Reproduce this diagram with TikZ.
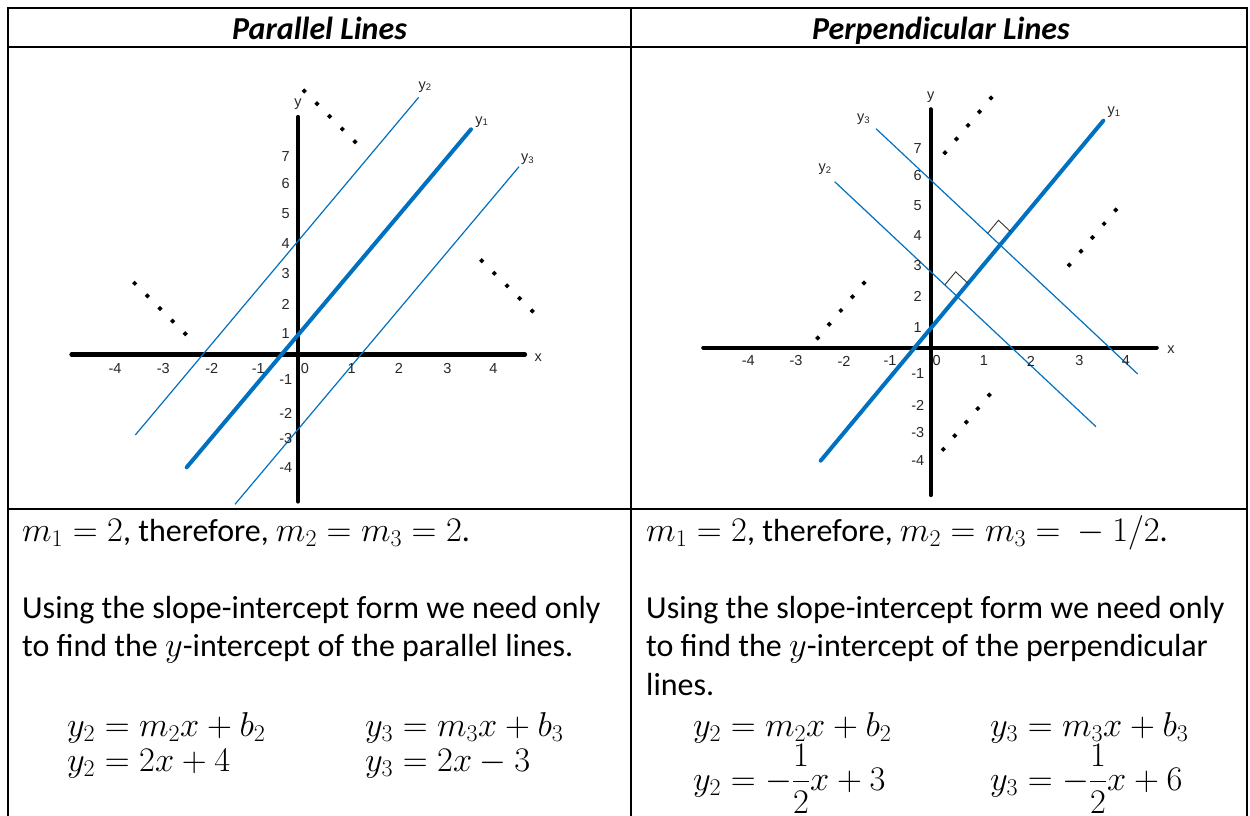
\RequirePackage{fix-cm}
\documentclass[tikz,border=0pt]{standalone}
\usepackage{fontspec}
\setmainfont{Carlito}
\newfontfamily\arialf{Liberation Sans}
\usetikzlibrary{calc}
\DeclareMathSizes{32}{34.5}{24}{18}
\definecolor{lineblue}{RGB}{0,112,192}
\newcommand\diamrow[2]{\foreach \t in {0,0.25,0.5,0.75,1}{\fill ($#1!\t!#2$) +(0,-2.6) -- +(2.6,0) -- +(0,2.6) -- +(-2.6,0) -- cycle;}}
\newcommand\ysub[1]{y\raisebox{-1.5pt}{\fontsize{9.5}{9.5}\selectfont #1}}
\begin{document}
\begin{tikzpicture}[x=1pt,y=-1pt,
  frame/.style={line width=2pt},
  axisline/.style={line width=4.2pt, line cap=round},
  thinblue/.style={draw=lineblue, line width=1.2pt},
  thickblue/.style={draw=lineblue, line width=4pt, line cap=round},
  ticklab/.style={font=\arialf\fontsize{14.5}{14.5}\selectfont, inner sep=0pt, text=black!85},
  head/.style={font=\bfseries\itshape\fontsize{32}{36}\selectfont, inner sep=0pt, anchor=base},
  body/.style={font=\fontsize{32}{38}\selectfont, inner sep=0pt, anchor=base west},
  rmark/.style={draw=black!80, line width=0.9pt}
]
\useasboundingbox (0,0) rectangle (1250,816);
% table frame
\draw[frame] (8,816) -- (8,8) -- (1247,8) -- (1247,816);
\draw[frame] (8,47) -- (1247,47);
\draw[frame] (8,508.5) -- (1247,508.5);
\draw[frame] (631,8) -- (631,816);
\node[head] (hl) at (319.5,39.5) {Parallel Lines};
\node[head] (hr) at (941,39.5) {Perpendicular Lines};

% ===== left graph =====
\coordinate (Lxa) at (71.5,354.5); \coordinate (Lxb) at (525,354.5);
\coordinate (Lya) at (298,117); \coordinate (Lyb) at (298,501.5);
\draw[axisline] (Lxa) -- (Lxb);
\draw[axisline] (Lya) -- (Lyb);
\coordinate (L1a) at (186.7,467.3); \coordinate (L1b) at (471,129.3);
\coordinate (L2a) at (135.3,435); \coordinate (L2b) at (418.7,97.3);
\coordinate (L3a) at (235,504.3); \coordinate (L3b) at (519,166.7);
\draw[thinblue] (L2a) -- (L2b);
\draw[thinblue] (L3a) -- (L3b);
\draw[thickblue] (L1a) -- (L1b);
\node[ticklab] (Lyl) at (298,104) {y};
\node[ticklab] (Lxl) at (538.3,357.3) {x};
\node[ticklab] (Ly2) at (425,86.7) {\ysub{2}};
\node[ticklab] (Ly1) at (481.7,121.7) {\ysub{1}};
\node[ticklab] (Ly3) at (527.3,159.3) {\ysub{3}};
\foreach \v/\x in {-4/115,-3/163.3,-2/211.7,-1/258.3,0/305,1/351.7,2/399,3/447.3,4/493.3}
  \node[ticklab] (Lx\v) at (\x,368.3) {\v};
\foreach \v/\y in {7/156.7,6/183.3,5/213.3,4/243.3,3/273.3,2/304,1/333.3,-1/380,-2/413.3,-3/438.3,-4/467.3}
  \node[ticklab] (Ly\v) at (285.7,\y) {\v};
\diamrow{(304.3,91)}{(355,141.7)}
\diamrow{(481.7,260.7)}{(532.3,311)}
\diamrow{(134.7,283.3)}{(185.3,333.7)}

% ===== right graph =====
\coordinate (Rxa) at (703.3,347.7); \coordinate (Rxb) at (1156.7,347.7);
\coordinate (Rya) at (930.7,109.3); \coordinate (Ryb) at (930.7,495);
\draw[axisline] (Rxa) -- (Rxb);
\draw[axisline] (Rya) -- (Ryb);
\coordinate (R1a) at (820.7,460.7); \coordinate (R1b) at (1103.3,120.7);
\coordinate (R3a) at (876,128.7); \coordinate (R3b) at (1137.7,374);
\coordinate (R2a) at (834.7,181.7); \coordinate (R2b) at (1096,426.7);
\draw[thinblue] (R2a) -- (R2b);
\draw[thinblue] (R3a) -- (R3b);
\draw[thickblue] (R1a) -- (R1b);
% right-angle marks
\coordinate (I1) at (1000,245); \coordinate (I2) at (957.2,296.5);
\coordinate (A1) at ($(I1)!17pt!(R1b)$); \coordinate (C1) at ($(I1)!17pt!(R3a)$);
\coordinate (A2) at ($(I2)!17pt!(R1b)$); \coordinate (C2) at ($(I2)!17pt!(R2a)$);
\draw[rmark] (A1) -- ($(A1)+(C1)-(I1)$) -- (C1);
\draw[rmark] (A2) -- ($(A2)+(C2)-(I2)$) -- (C2);
\node[ticklab] (Ryl) at (930.7,96.7) {y};
\node[ticklab] (Rxl) at (1171,350) {x};
\node[ticklab] (Ry1) at (1114,112.3) {\ysub{1}};
\node[ticklab] (Ry3) at (863.3,119.3) {\ysub{3}};
\node[ticklab] (Ry2) at (825,169.3) {\ysub{2}};
\foreach \v/\x in {-4/748.3,-3/796,-2/844,-1/890,0/936.7,1/984,2/1031,3/1079.3,4/1126}
  \node[ticklab] (Rx\v) at (\x,361) {\v};
\foreach \v/\y in {7/149,6/175.7,5/206,4/235.7,3/265.7,2/296.7,1/327.3,-1/373.3,-2/405,-3/432.7,-4/460.7}
  \node[ticklab] (Ry\v) at (917.7,\y) {\v};
\diamrow{(945,152.7)}{(991,98)}
\diamrow{(1069.3,265)}{(1115.7,210)}
\diamrow{(817.7,338)}{(864,283)}
\diamrow{(943.3,449.3)}{(989.3,395)}

% ===== left text =====
\node[body] (lt1) at (22,541.7) {$m_1 = 2$, therefore, $m_2 = m_3 = 2$.};
\node[body] (lt2) at (22,618.3) {Using the slope-intercept form we need only};
\node[body] (lt3) at (22,656.7) {to find the $y$-intercept of the parallel lines.};
\node[body] (le1) at (67,736.7) {$y_2 = m_2x + b_2$};
\node[body] (le2) at (365,736.7) {$y_3 = m_3x + b_3$};
\node[body] (le3) at (67,771.7) {$y_2 = 2x + 4$};
\node[body] (le4) at (365,771.7) {$y_3 = 2x - 3$};

% ===== right text =====
\node[body] (rt1) at (646,541.7) {$m_1 = 2$, therefore, $m_2 = m_3 = {}- 1/2$.};
\node[body] (rt2) at (646,618.3) {Using the slope-intercept form we need only};
\node[body] (rt3) at (646,656.7) {to find the $y$-intercept of the perpendicular};
\node[body] (rt4) at (646,695) {lines.};
\node[body] (re1) at (693,736.7) {$y_2 = m_2x + b_2$};
\node[body] (re2) at (990,736.7) {$y_3 = m_3x + b_3$};
\node[body] (re3) at (693,790) {$y_2 = -\displaystyle\frac{1}{2}x + 3$};
\node[body] (re4) at (990,790) {$y_3 = -\displaystyle\frac{1}{2}x + 6$};
\end{tikzpicture}
\end{document}
